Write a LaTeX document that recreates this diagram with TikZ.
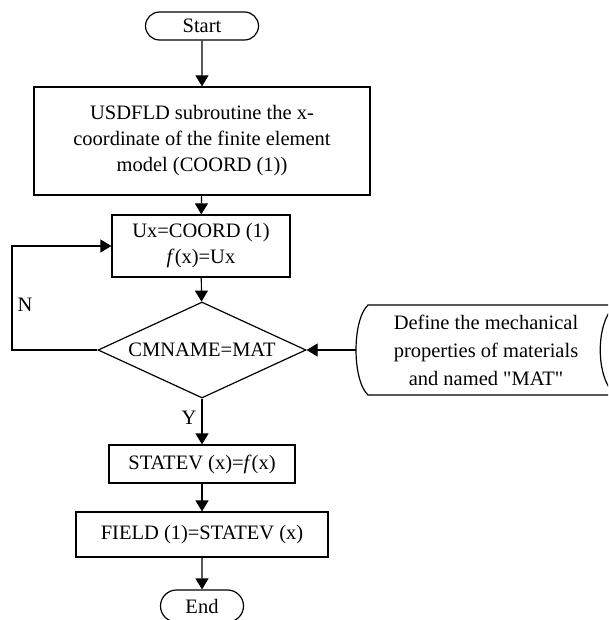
\documentclass[tikz,border=0pt]{standalone}
\usepackage{fontspec}
\setmainfont{Liberation Serif}[Ligatures=TeXOff]
\usetikzlibrary{shapes.geometric,shapes.misc,arrows.meta}
\begin{document}
\begin{tikzpicture}[x=1pt,y=-1pt,
  line width=1.2pt,
  font=\fontsize{20.5}{26}\selectfont,
  box/.style={draw, rectangle, align=center, inner sep=0pt},
  term/.style={draw, rounded rectangle, inner sep=0pt},
  arr/.style={-{Triangle[width=13pt,length=11pt]}},
  lbl/.style={inner sep=0pt}]
\fill[white] (0,0) rectangle (608,620);
\clip (0,0) rectangle (608,620);
\node[term, minimum width=113pt, minimum height=28pt] (start) at (202,26) {Start};
\node[box, minimum width=336pt, minimum height=108pt] (usd) at (202,141)
  {USDFLD subroutine the x-\\coordinate of the finite element\\model (COORD (1))};
\node[box, minimum width=178pt, minimum height=62pt] (ux) at (201,246)
  {Ux=COORD (1)\\\textit{f}(x)=Ux};
\node[draw, diamond, aspect=2.17, minimum width=208pt, minimum height=96pt, inner sep=0pt] (dec) at (202,350) {CMNAME=MAT};
\node[box, minimum width=186pt, minimum height=38pt] (st) at (202,464) {STATEV (x)=\textit{f}(x)};
\node[box, minimum width=252pt, minimum height=45pt] (fld) at (202,534.5) {FIELD (1)=STATEV (x)};
\node[term, minimum width=83pt, minimum height=32pt] (end) at (202,606) {End};
\node[align=center, inner sep=0pt, font=\fontsize{20.5}{28}\selectfont] (def) at (486,350)
  {Define the mechanical\\properties of materials\\and named "MAT"};
\draw (368,305) -- (616,305) .. controls (595,320) and (595,380) .. (616,395)
  -- (368,395) .. controls (352,380) and (352,320) .. (368,305) -- cycle;
\coordinate (defw) at (356,350);
\coordinate (loopc) at (12,350);
\node[lbl] (N) at (25,305) {N};
\node[lbl] (Y) at (189,418) {Y};
\draw[arr] (start) -- (usd);
\draw[arr] (usd) -- (ux);
\draw[arr] (ux) -- (dec);
\draw[arr] (dec.west) -- (loopc) |- (ux.west);
\draw[arr] (dec) -- (st);
\draw[arr] (st) -- (fld);
\draw[arr] (fld) -- (end);
\draw[arr] (defw) -- (dec.east);
\end{tikzpicture}
\end{document}
